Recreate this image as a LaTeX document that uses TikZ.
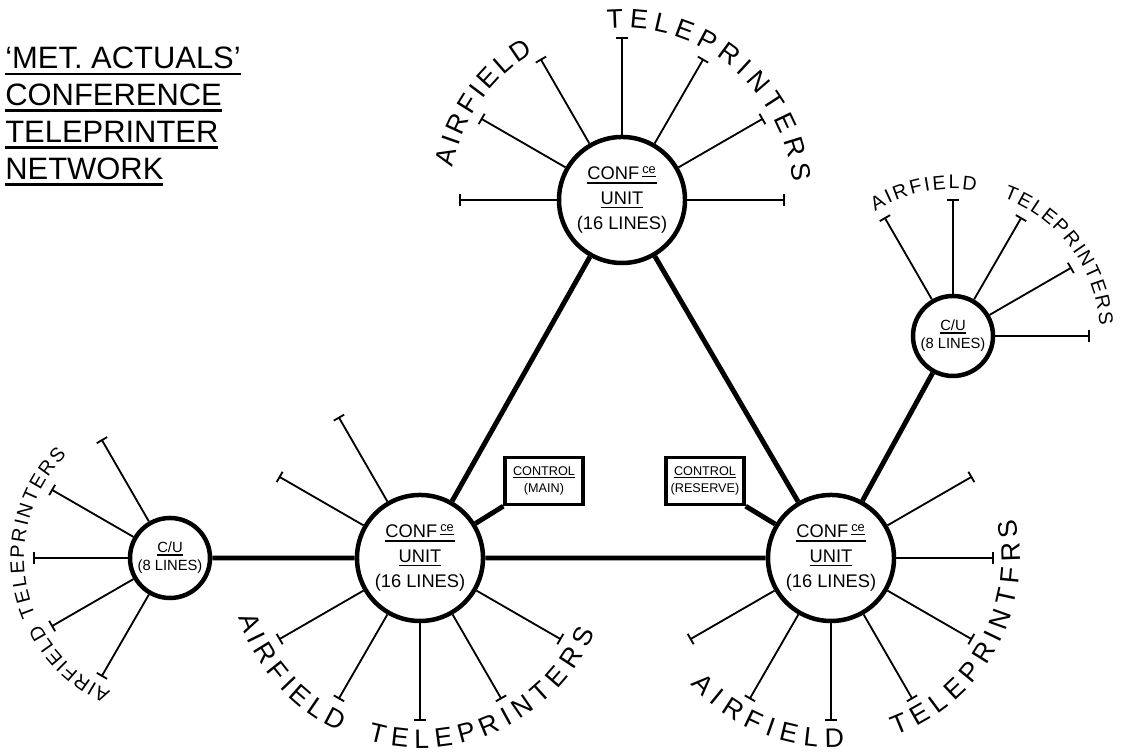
\documentclass[tikz,border=0pt]{standalone}
\usepackage{fontspec}
\setmainfont{Liberation Sans}
\usetikzlibrary{arrows.meta,decorations.text}
\newcommand\ulbar[1]{\setbox0=\hbox{#1}\leavevmode\rlap{\rule[-0.2em]{\wd0}{0.08em}}\box0}
\newcommand\arcbig{\fontsize{19}{19}\selectfont}
\newcommand\arcsmall{\fontsize{14}{14}\selectfont}
\begin{document}
\begin{tikzpicture}[x=0.025cm,y=0.025cm,
    unit/.style={circle,draw,line width=3.2pt,minimum size=3.15cm,inner sep=0pt,align=center,font=\fontsize{13}{17.5}\selectfont},
    cu/.style={circle,draw,line width=3.2pt,minimum size=2cm,inner sep=0pt,align=center,font=\fontsize{10.5}{13}\selectfont},
    ctrl/.style={draw,line width=2.4pt,minimum width=1.95cm,minimum height=1.175cm,inner sep=1pt,align=center,font=\fontsize{9}{12}\selectfont},
    trunk/.style={line width=3.5pt},
    spoke/.style={line width=1.3pt,-{Bar[width=0.3cm]}},
    arctext/.style 2 args={decorate,decoration={text along path,text align={fit to path},text={|#1|#2}}}]
  \useasboundingbox (0,0) rectangle (1121,753);

  \node[anchor=north west,inner sep=0pt,align=left,font=\fontsize{22}{26.2}\selectfont] (title) at (5,706)
    {\ulbar{`MET. ACTUALS'}\\ \ulbar{CONFERENCE}\\ \ulbar{TELEPRINTER}\\ \ulbar{NETWORK}};

  \node[unit] (T) at (622,553) {\ulbar{CONF\,\textsuperscript{\underline{ce}}}\\ \ulbar{UNIT}\\ (16 LINES)};
  \node[unit] (L) at (420,195) {\ulbar{CONF\,\textsuperscript{\underline{ce}}}\\ \ulbar{UNIT}\\ (16 LINES)};
  \node[unit] (R) at (831,195) {\ulbar{CONF\,\textsuperscript{\underline{ce}}}\\ \ulbar{UNIT}\\ (16 LINES)};
  \node[cu] (SL) at (170,195) {\ulbar{C/U}\\ (8 LINES)};
  \node[cu] (SR) at (953,417) {\ulbar{C/U}\\ (8 LINES)};
  \node[ctrl] (main) at (544,272) {\ulbar{CONTROL}\\ (MAIN)};
  \node[ctrl] (reserve) at (705,272) {\ulbar{CONTROL}\\ (RESERVE)};

  \draw[trunk] (SL) -- (L) (L) -- (R) (L) -- (T) (R) -- (T) (R) -- (SR)
    (L) -- (main.south west) (R) -- (reserve.south east);

  \foreach \a in {0,30,...,180} {
    \coordinate (T-\a) at ([shift={(\a:163)}]T.center);
    \draw[spoke] (T.\a) -- (T-\a);
  }
  \foreach \a in {120,150,210,240,270,300,330} {
    \coordinate (L-\a) at ([shift={(\a:163)}]L.center);
    \draw[spoke] (L.\a) -- (L-\a);
  }
  \foreach \a in {0,30,210,240,270,300,330} {
    \coordinate (R-\a) at ([shift={(\a:163)}]R.center);
    \draw[spoke] (R.\a) -- (R-\a);
  }
  \foreach \a in {0,30,...,120} {
    \coordinate (SR-\a) at ([shift={(\a:137)}]SR.center);
    \draw[spoke] (SR.\a) -- (SR-\a);
  }
  \foreach \a in {120,150,...,240} {
    \coordinate (SL-\a) at ([shift={(\a:137)}]SL.center);
    \draw[spoke] (SL.\a) -- (SL-\a);
  }

  \path[arctext={\arcbig}{AIRFIELD}] (T.center) ++(169:172) arc[start angle=169,end angle=121,radius=172];
  \path[arctext={\arcbig}{TELEPRINTERS}] (T.center) ++(95:172) arc[start angle=95,end angle=6,radius=172];
  \path[arctext={\arcbig}{AIRFIELD}] (L.center) ++(198:191) arc[start angle=198,end angle=245,radius=191];
  \path[arctext={\arcbig}{TELEPRINTERS}] (L.center) ++(254:190) arc[start angle=254,end angle=337,radius=190];
  \path[arctext={\arcbig}{AIRFIELD}] (R.center) ++(222:189) arc[start angle=222,end angle=274,radius=189];
  \path[arctext={\arcbig}{TELEPRINTFRS}] (R.center) ++(290:189) arc[start angle=290,end angle=372,radius=189];
  \path[arctext={\arcsmall}{AIRFIELD}] (SR.center) ++(122:147) arc[start angle=122,end angle=81,radius=147];
  \path[arctext={\arcsmall}{TELEPRINTERS}] (SR.center) ++(70:147) arc[start angle=70,end angle=4,radius=147];
  \path[arctext={\arcsmall}{TELEPRINTERS}] (SL.center) ++(203:146) arc[start angle=203,end angle=135,radius=146];
  \path[arctext={\arcsmall}{AIRFIELD}] (SL.center) ++(246:146) arc[start angle=246,end angle=207,radius=146];
\end{tikzpicture}
\end{document}
